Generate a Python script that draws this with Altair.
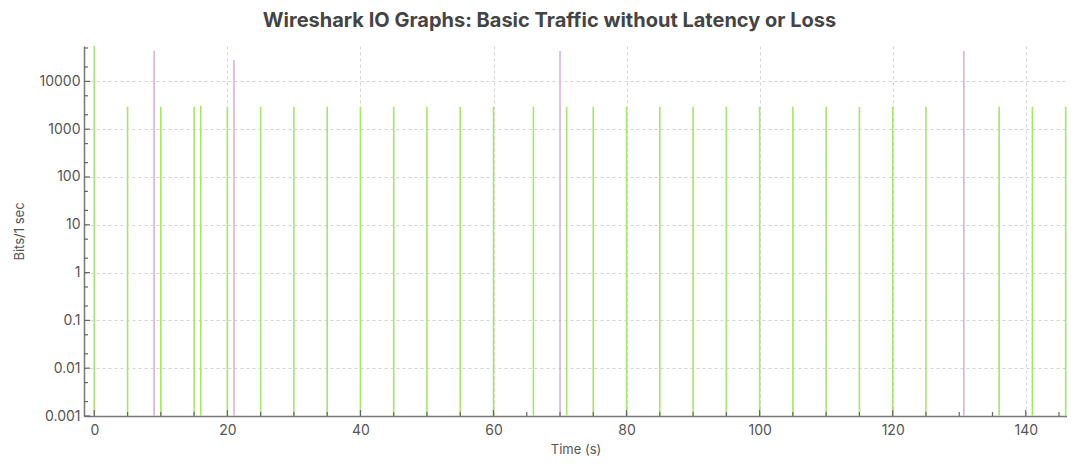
import altair as alt
import pandas as pd

# Green series (all packets)
green_x = [0, 5, 10, 15, 16, 20, 25, 30, 35, 40, 45, 50, 55, 60, 66, 71, 75, 80,
           85, 90, 95, 100, 105, 110, 115, 120, 125, 136, 141, 146]
green_y = [60000, 2950, 2950, 2950, 3100, 2950, 2950, 2950, 2950, 2950, 2950, 2950,
           2950, 2950, 2950, 2950, 2950, 2950, 2950, 2950, 2950, 2950, 2950, 2950,
           2950, 2950, 2950, 2950, 2950, 2950]
# Pink series
pink_x = [9, 21, 70, 130.7]
pink_y = [44000, 28000, 43000, 43000]

series_names = ["All packets", "Burst"]
series_colors = ["#a6e66a", "#d8b4d8"]

x_major = [0, 20, 40, 60, 80, 100, 120, 140]
x_minor = [v for v in range(0, 146, 5) if v % 20 != 0]
y_decades = [0.001, 0.01, 0.1, 1, 10, 100, 1000, 10000]
y_minor = []
for d in y_decades:
    y_minor += [d * 2, d * 5]

df = pd.DataFrame({
    "t": green_x + pink_x,
    "v": green_y + pink_y,
    "s": [series_names[0]] * len(green_x) + [series_names[1]] * len(pink_x),
})

font = "Inter"
X0 = -1.55
Y0 = 0.001

x_scale = alt.Scale(domain=[X0, 146.2], nice=False, zero=False)
y_scale = alt.Scale(type="log", domain=[Y0, 55000], nice=False, clamp=True)

x_axis = alt.Axis(title="Time (s)", values=x_major, ticks=False, labelPadding=7,
                  grid=True, gridDash=[3, 3], gridColor="#d4d4d4")
y_axis = alt.Axis(title="Bits/1 sec", values=y_decades, ticks=False, labelPadding=4,
                  format="~g", grid=True, gridDash=[3, 3], gridColor="#d4d4d4")

spikes = alt.Chart(df).mark_rule(strokeWidth=1.6).encode(
    x=alt.X("t:Q", scale=x_scale, axis=x_axis),
    y=alt.Y("v:Q", scale=y_scale, axis=y_axis),
    y2=alt.datum(Y0),
    color=alt.Color("s:N", scale=alt.Scale(domain=series_names, range=series_colors), legend=None),
)

tick_color = "#666666"

def xticks(vals, size):
    return alt.Chart(pd.DataFrame({"t": vals})).mark_tick(
        orient="vertical", size=size, thickness=1.2, color=tick_color, opacity=1,
        yOffset=-size / 2
    ).encode(
        x=alt.X("t:Q", scale=x_scale, axis=x_axis),
        y=alt.YDatum(Y0, type="quantitative", scale=y_scale, axis=y_axis),
    )

def yticks(vals, size):
    return alt.Chart(pd.DataFrame({"v": vals})).mark_tick(
        orient="horizontal", size=size, thickness=1.2, color=tick_color, opacity=1,
        xOffset=size / 2
    ).encode(
        y=alt.Y("v:Q", scale=y_scale, axis=y_axis),
        x=alt.XDatum(X0, type="quantitative", scale=x_scale, axis=x_axis),
    )

chart = alt.layer(
    spikes,
    xticks(x_major, 6), xticks(x_minor, 4),
    yticks(y_decades, 6), yticks(y_minor, 4),
).properties(
    width=983,
    height=370,
    title=alt.TitleParams(
        "Wireshark IO Graphs: Basic Traffic without Latency or Loss",
        font=font, fontSize=20, fontWeight="bold", color="#444444", offset=14, dx=-26,
    ),
    autosize=alt.AutoSizeParams(type="none"),
    padding={"left": 76, "top": 38, "right": 0, "bottom": 40},
).configure_axis(
    labelFont=font, titleFont=font, labelFontSize=14, titleFontSize=13,
    labelColor="#555555", titleColor="#555555", titleFontWeight="normal",
    domainColor="#777777", domainWidth=1.5,
).configure_axisY(
    titlePadding=12,
).configure_axisX(
    titlePadding=6,
).configure_view(stroke=None)

chart.save("out.html", embed_options={"renderer": "svg", "actions": False})
